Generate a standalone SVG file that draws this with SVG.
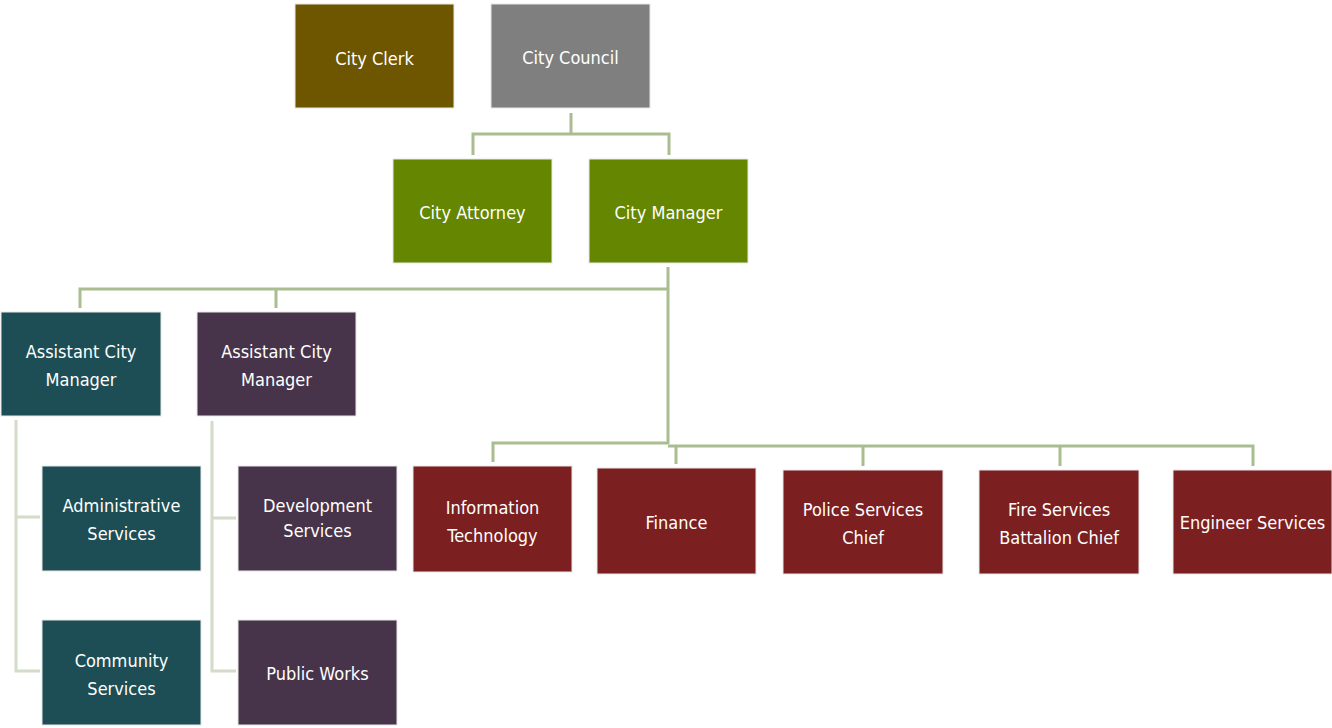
<svg xmlns="http://www.w3.org/2000/svg" width="1332" height="728" viewBox="0 0 1332 728">
<style>
.box{stroke:#e8e8e8;stroke-width:1}
.t{font-family:"DejaVu Sans Condensed","DejaVu Sans",sans-serif;font-stretch:condensed;font-size:18px;fill:#ffffff;text-anchor:middle;dominant-baseline:central}
.c{fill:none;stroke:#a9bd90;stroke-width:3}
.l{fill:none;stroke:#d2dcc8;stroke-width:3}
.brown{fill:#6e5600}.gray{fill:#7f7f7f}.green{fill:#648600}.teal{fill:#1d4e55}.plum{fill:#48344a}.red{fill:#7c1f20}
</style>
<rect width="1332" height="728" fill="#ffffff"/>
<g id="connectors">
<path class="c" d="M571 113V134M473 155V134H669V155"/>
<path class="c" d="M668 267V444M80 308V289H668M276 308V289"/>
<path class="c" d="M493 462V443H668M668 446H1253V466M676 446V464M863 446V466M1060 446V466"/>
<path class="l" d="M16 420V671H40M16 517H40"/>
<path class="l" d="M212 421V671H236M212 518H236"/>
</g>
<g id="city-clerk"><rect class="box brown" x="295" y="4" width="159" height="104"/><text class="t" x="374.5" y="58">City Clerk</text></g>
<g id="city-council"><rect class="box gray" x="491" y="4" width="159" height="104"/><text class="t" x="570.5" y="57">City Council</text></g>
<g id="city-attorney"><rect class="box green" x="393" y="159" width="159" height="104"/><text class="t" x="472.5" y="212">City Attorney</text></g>
<g id="city-manager"><rect class="box green" x="589" y="159" width="159" height="104"/><text class="t" x="668.5" y="212">City Manager</text></g>
<g id="acm-1"><rect class="box teal" x="1" y="312" width="160" height="104"/><text class="t" x="81" y="351">Assistant City</text><text class="t" x="81" y="379">Manager</text></g>
<g id="acm-2"><rect class="box plum" x="197" y="312" width="159" height="104"/><text class="t" x="276.5" y="351">Assistant City</text><text class="t" x="276.5" y="379">Manager</text></g>
<g id="administrative-services"><rect class="box teal" x="42" y="466" width="159" height="105"/><text class="t" x="121.5" y="505">Administrative</text><text class="t" x="121.5" y="533">Services</text></g>
<g id="community-services"><rect class="box teal" x="42" y="620" width="159" height="105"/><text class="t" x="121.5" y="660">Community</text><text class="t" x="121.5" y="688">Services</text></g>
<g id="development-services"><rect class="box plum" x="238" y="466" width="159" height="105"/><text class="t" x="317.5" y="505">Development</text><text class="t" x="317.5" y="530">Services</text></g>
<g id="public-works"><rect class="box plum" x="238" y="620" width="159" height="105"/><text class="t" x="317.5" y="673">Public Works</text></g>
<g id="information-technology"><rect class="box red" x="413" y="466" width="159" height="106"/><text class="t" x="492.5" y="507">Information</text><text class="t" x="492.5" y="535">Technology</text></g>
<g id="finance"><rect class="box red" x="597" y="468" width="159" height="106"/><text class="t" x="676.5" y="522">Finance</text></g>
<g id="police-services-chief"><rect class="box red" x="783" y="470" width="160" height="104"/><text class="t" x="863" y="509">Police Services</text><text class="t" x="863" y="537">Chief</text></g>
<g id="fire-services-battalion-chief"><rect class="box red" x="979" y="470" width="160" height="104"/><text class="t" x="1059" y="509">Fire Services</text><text class="t" x="1059" y="537">Battalion Chief</text></g>
<g id="engineer-services"><rect class="box red" x="1173" y="470" width="159" height="104"/><text class="t" x="1252.5" y="522">Engineer Services</text></g>
</svg>
